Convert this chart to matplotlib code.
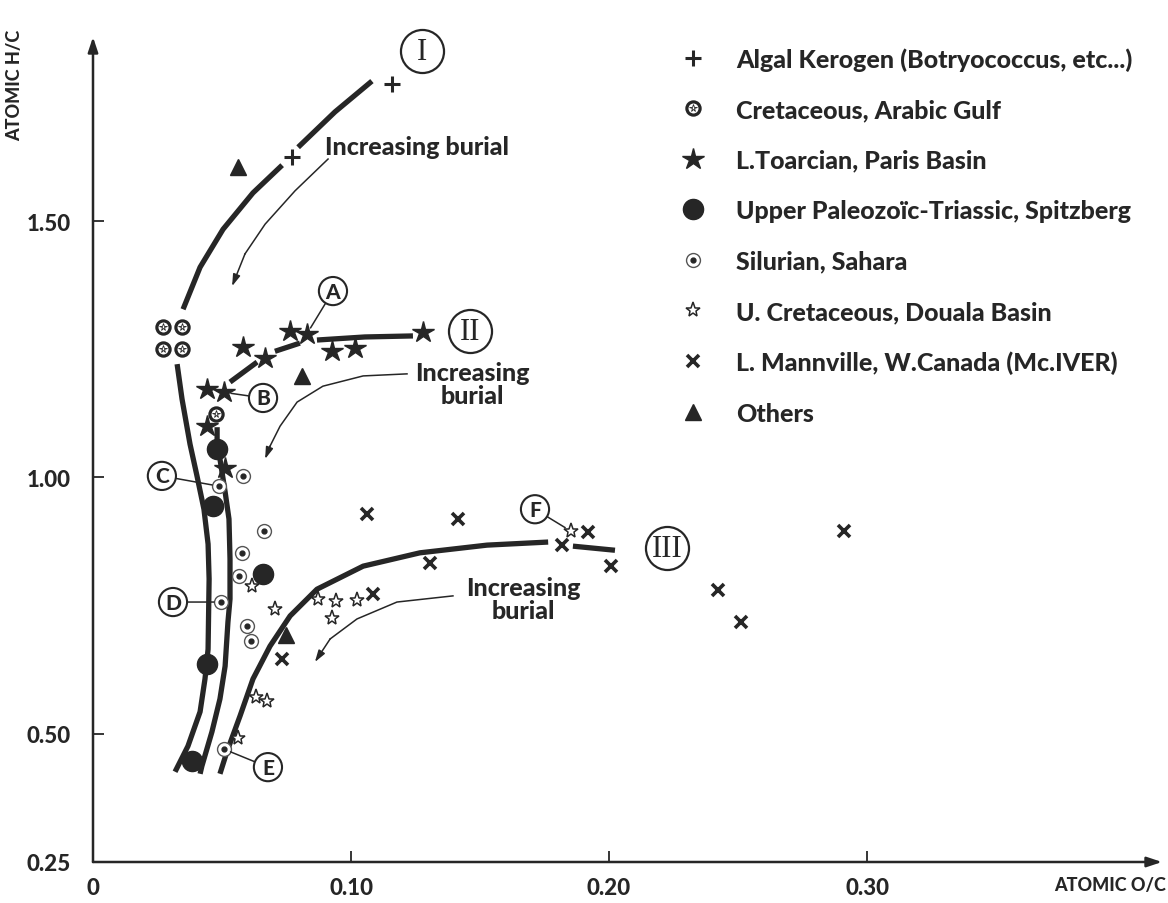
import numpy as np
import matplotlib.pyplot as plt
from matplotlib.legend_handler import HandlerTuple

plt.rcParams['font.family'] = ['Lato', 'DejaVu Sans']
plt.rcParams['font.weight'] = 'black'

ink = '#262626'
nan = np.nan

# Sample points (atomic O/C, atomic H/C)
# --------------------------------------

algal_oc = [0.1159, 0.0771]
algal_hc = [1.767, 1.625]

cret_oc = [0.0271, 0.0345, 0.0271, 0.0345, 0.0477]
cret_hc = [1.293, 1.293, 1.250, 1.250, 1.124]

toarc_oc = [0.0764, 0.0829, 0.1279, 0.0926, 0.1016, 0.0581, 0.0667,
            0.0442, 0.0508, 0.0442, 0.0512]
toarc_hc = [1.285, 1.280, 1.284, 1.246, 1.252, 1.254, 1.233,
            1.172, 1.166, 1.100, 1.018]

spitz_oc = [0.0481, 0.0465, 0.0659, 0.0442, 0.0384]
spitz_hc = [1.055, 0.944, 0.812, 0.636, 0.447]

silur_oc = [0.0581, 0.0488, 0.0663, 0.0578, 0.0566, 0.0496, 0.0597,
            0.0612, 0.0508]
silur_hc = [1.003, 0.983, 0.895, 0.853, 0.808, 0.757, 0.710, 0.681, 0.470]

douala_oc = [0.0616, 0.0705, 0.0872, 0.0942, 0.1023, 0.0926, 0.0632,
             0.0674, 0.0562, 0.1853]
douala_hc = [0.788, 0.743, 0.763, 0.759, 0.761, 0.726, 0.572,
             0.564, 0.492, 0.895]

mann_oc = [0.1062, 0.1415, 0.1306, 0.1085, 0.0733, 0.1818, 0.1919,
           0.2008, 0.2422, 0.2512, 0.2911]
mann_hc = [0.929, 0.919, 0.833, 0.773, 0.646, 0.868, 0.894,
           0.827, 0.780, 0.718, 0.895]

other_oc = [0.0562, 0.0810, 0.0748]
other_hc = [1.605, 1.198, 0.693]

# Evolution paths of kerogen types (nan = pen lifted)
# ---------------------------------------------------

path1_oc = [0.1081, 0.0938, 0.0795, nan, 0.0733, 0.0620, 0.0504, 0.0415,
            0.0349, nan, 0.0326, 0.0345, 0.0376, 0.0403, 0.0430, 0.0446,
            0.0450, 0.0446, 0.0434, 0.0415, 0.0368, 0.0318]
path1_hc = [1.773, 1.713, 1.644, nan, 1.609, 1.555, 1.484, 1.410,
            1.328, nan, 1.221, 1.153, 1.065, 1.003, 0.938, 0.870,
            0.802, 0.665, 0.607, 0.543, 0.476, 0.426]

path2_oc = [0.1240, 0.1054, 0.0868, nan, 0.0802, 0.0705, nan, 0.0636,
            0.0531, nan, 0.0481, 0.0481, 0.0492, 0.0512, 0.0527, 0.0531,
            0.0531, 0.0523, 0.0512, 0.0492, 0.0461, 0.0422, 0.0415]
path2_hc = [1.276, 1.274, 1.268, nan, 1.262, 1.246, nan, 1.225,
            1.186, nan, 1.098, 1.071, 1.036, 0.972, 0.919, 0.841,
            0.763, 0.718, 0.632, 0.568, 0.504, 0.437, 0.422]

path3_oc = [0.2023, 0.1860, nan, 0.1764, 0.1527, 0.1267, 0.1047, 0.0868,
            0.0764, 0.0686, 0.0620, 0.0570, 0.0519, 0.0492]
path3_hc = [0.858, 0.866, nan, 0.874, 0.868, 0.853, 0.827, 0.782,
            0.730, 0.671, 0.607, 0.535, 0.465, 0.422]

# "increasing burial" arrows
bur1_oc = [0.0911, 0.0783, 0.0667, 0.0589, 0.0539]
bur1_hc = [1.621, 1.559, 1.494, 1.436, 1.373]
bur2_oc = [0.1217, 0.1047, 0.0891, 0.0791, 0.0725, 0.0686, 0.0667]
bur2_hc = [1.202, 1.198, 1.178, 1.147, 1.100, 1.061, 1.036]
bur3_oc = [0.1395, 0.1178, 0.1023, 0.0919, 0.0860]
bur3_hc = [0.769, 0.757, 0.724, 0.685, 0.640]

# initialize figure
fig = plt.figure(figsize=(11.68, 9.04), dpi=100)
ax = fig.add_axes([93/1168, 41/904, 1069/1168, 825/904])
ax.set_xlim(0, 0.4143)
ax.set_ylim(0.25, 1.859)
for s in ax.spines.values():
    s.set_visible(False)

# axes with arrows
arw = dict(arrowstyle='-|>,head_length=0.9,head_width=0.3', lw=1.8,
           color=ink, shrinkA=0, shrinkB=0)
ax.annotate('', xy=(0, 1), xytext=(0, 0), xycoords='axes fraction',
            arrowprops=arw)
ax.annotate('', xy=(1, 0), xytext=(0, 0), xycoords='axes fraction',
            arrowprops=arw)

ax.set_xticks([0, 0.1, 0.2, 0.3], ['0', '0.10', '0.20', '0.30'])
ax.set_yticks([0.25, 0.5, 1.0, 1.5], ['0.25', '0.50', '1.00', '1.50'])
ax.tick_params(direction='in', length=8, width=1.3, color=ink,
               labelcolor=ink, labelsize=16)
ax.tick_params(axis='x', pad=11)
ax.tick_params(axis='y', pad=16)

fig.text(15/1168, 1-85/904, 'ATOMIC H/C', rotation=90, ha='center',
         va='center', fontsize=13, color=ink)
fig.text(1166/1168, 1-886/904, 'ATOMIC O/C', ha='right', va='center',
         fontsize=13, color=ink)

# Evolution paths
# ---------------

kw = dict(color=ink, lw=3.8, solid_capstyle='butt', solid_joinstyle='round',
          zorder=2)
ax.plot(path1_oc, path1_hc, **kw)
ax.plot(path2_oc, path2_hc, **kw)
ax.plot(path3_oc, path3_hc, **kw)

hkw = dict(arrowstyle='-|>,head_length=0.7,head_width=0.22', lw=1.1,
           color=ink, shrinkA=0, shrinkB=0)
for bx, by in [(bur1_oc, bur1_hc), (bur2_oc, bur2_hc), (bur3_oc, bur3_hc)]:
    ax.plot(bx[:-1], by[:-1], color=ink, lw=1.1, zorder=2)
    ax.annotate('', xy=(bx[-1], by[-1]), xytext=(bx[-2], by[-2]),
                arrowprops=hkw)

tkw = dict(fontsize=18, color=ink, zorder=4, linespacing=1.0)
ax.text(0.0899, 1.646, 'Increasing burial', ha='left', va='center', **tkw)
ax.text(0.1469, 1.182, 'Increasing\nburial', ha='center', va='center', **tkw)
ax.text(0.1667, 0.763, 'Increasing\nburial', ha='center', va='center', **tkw)

# Sample markers
# --------------

h_alg, = ax.plot(algal_oc, algal_hc, '+', color=ink, ms=12, mew=2.2,
                 zorder=3)
h_cr1, = ax.plot(cret_oc, cret_hc, 'o', mfc='white', mec=ink, ms=9.5,
                 mew=2.3, zorder=3)
h_cr2, = ax.plot(cret_oc, cret_hc, '*', mfc='white', mec=ink, ms=5.5,
                 mew=0.6, zorder=3)
h_toa, = ax.plot(toarc_oc, toarc_hc, '*', color=ink, ms=16, zorder=3)
h_spi, = ax.plot(spitz_oc, spitz_hc, 'o', color=ink, ms=14.5, zorder=3)
h_si1, = ax.plot(silur_oc, silur_hc, 'o', mfc='white', mec='#555555',
                 ms=10, mew=1.0, zorder=3)
h_si2, = ax.plot(silur_oc, silur_hc, 'o', color=ink, ms=3.5, zorder=3)
h_dou, = ax.plot(douala_oc, douala_hc, '*', mfc='white', mec=ink, ms=11,
                 mew=1.1, zorder=3)
h_man, = ax.plot(mann_oc, mann_hc, 'x', color=ink, ms=8, mew=2.6, zorder=3)
h_oth, = ax.plot(other_oc, other_hc, '^', color=ink, ms=12, zorder=3)

# Labels
# ------

# kerogen type numerals
for x, y, s in [(0.1275, 1.8315, 'I'), (0.1461, 1.2855, 'II'),
                (0.2225, 0.862, 'III')]:
    ax.plot(x, y, 'o', mfc='white', mec=ink, ms=31, mew=1.6, zorder=4,
            clip_on=False)
    ax.text(x, y, s, ha='center', va='center', fontsize=22, color=ink,
            family='Liberation Serif', weight='normal', zorder=5)

# lettered samples
ckw = dict(ha='center', va='center', fontsize=15, color=ink, zorder=5,
           bbox=dict(boxstyle='circle,pad=0.22', fc='white', ec=ink, lw=1.5),
           arrowprops=dict(arrowstyle='-', color=ink, lw=1.1, shrinkA=0,
                           shrinkB=5))
for s, xt, yt, xp, yp in [('A', 0.0930, 1.3635, 0.0829, 1.280),
                          ('B', 0.0659, 1.155, 0.0508, 1.166),
                          ('C', 0.0267, 1.003, 0.0488, 0.983),
                          ('D', 0.0310, 0.757, 0.0496, 0.757),
                          ('E', 0.0678, 0.435, 0.0508, 0.470),
                          ('F', 0.1713, 0.938, 0.1853, 0.895)]:
    ax.annotate(s, xy=(xp, yp), xytext=(xt, yt), **ckw)

# legend
handles = [h_alg, (h_cr1, h_cr2), h_toa, h_spi, (h_si1, h_si2), h_dou,
           h_man, h_oth]
labels = ['Algal Kerogen (Botryococcus, etc...)',
          'Cretaceous, Arabic Gulf',
          'L.Toarcian, Paris Basin',
          'Upper Paleozoïc-Triassic, Spitzberg',
          'Silurian, Sahara',
          'U. Cretaceous, Douala Basin',
          'L. Mannville, W.Canada (Mc.IVER)',
          'Others']
leg = ax.legend(handles, labels, loc='upper left',
                bbox_to_anchor=(680/1168, 1-48/904),
                bbox_transform=fig.transFigure, frameon=False, fontsize=18,
                handlelength=1.0, handletextpad=1.26, labelspacing=1.1,
                borderpad=0, borderaxespad=0, numpoints=1,
                handler_map={tuple: HandlerTuple(ndivide=1)})
for t in leg.get_texts():
    t.set_color(ink)

fig.savefig('out.png', dpi=100, facecolor='white')
